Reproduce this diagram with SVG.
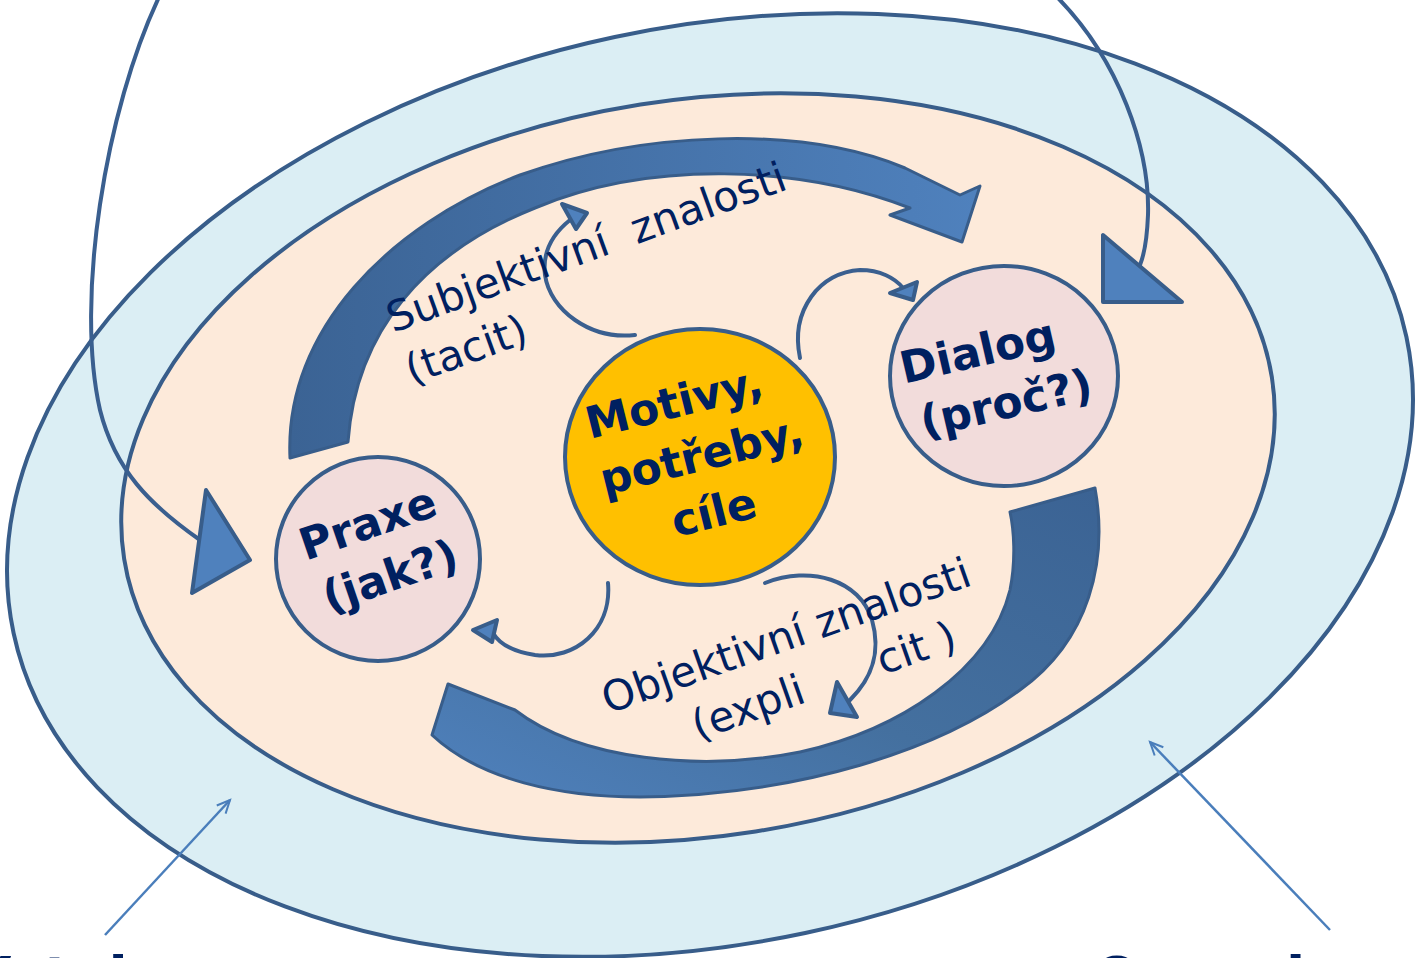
<svg xmlns="http://www.w3.org/2000/svg" width="1421" height="958" viewBox="0 0 1421 958">
<defs>
<style>
.ring{stroke:#385D8A;stroke-width:4}
.ln{fill:none;stroke:#3A5F8F;stroke-width:4;stroke-linecap:round}
.hd{fill:#4F81BD;stroke:#385D8A;stroke-width:4;stroke-linejoin:round}
.ptr{fill:none;stroke:#4A7EBB;stroke-width:2.5}
.node{stroke:#385D8A;stroke-width:4}
.t{font-family:"DejaVu Sans",Verdana,sans-serif;fill:#002060}
.lbl{font-size:42px}
.b{font-size:44px;font-weight:bold}
.big{font-size:56px;font-weight:bold}
</style>
<linearGradient id="gTop" x1="0" y1="0" x2="1" y2="0">
<stop offset="0" stop-color="#3B6394"/><stop offset="1" stop-color="#4F81BD"/>
</linearGradient>
<linearGradient id="gBot" x1="1" y1="0" x2="0" y2="1">
<stop offset="0" stop-color="#3B6394"/><stop offset="0.55" stop-color="#44709F"/><stop offset="1" stop-color="#4F81BD"/>
</linearGradient>
<marker id="open" markerUnits="userSpaceOnUse" markerWidth="18" markerHeight="18" refX="14" refY="7" orient="auto">
<path d="M1,1 L14,7 L1,13" fill="none" stroke="#4A7EBB" stroke-width="2"/>
</marker>
</defs>

<g id="outer-ring">
<ellipse class="ring" cx="710" cy="485" rx="712" ry="458" transform="rotate(-12 710 485)" fill="#DBEEF4"/>
</g>
<g id="inner-ring">
<ellipse class="ring" cx="698" cy="468" rx="581" ry="368" transform="rotate(-9 698 468)" fill="#FDEADA"/>
</g>

<g id="cycle-arrows">
<path id="arrow-top" fill="url(#gTop)" stroke="#385D8A" stroke-width="3" stroke-linejoin="round" d="M290,458 C284,330 390,225 520,175 C640,132 800,124 905,168 L960,195 L980,186 L962,242 L890,215 L910,208 C800,165 650,160 535,208 C425,252 356,330 348,442 Z"/>
<path id="arrow-bottom" fill="url(#gBot)" stroke="#385D8A" stroke-width="3" stroke-linejoin="round" d="M1010,512 L1095,488 C1108,560 1090,640 1020,690 C940,750 800,795 640,797 C560,797 480,780 432,735 L448,684 L515,710 C580,760 700,772 800,752 C900,730 990,670 1010,590 C1016,560 1014,530 1010,512 Z"/>
</g>

<g id="connectors">
<path class="ln" d="M635,335 C590,340 550,310 545,275 C542,250 555,232 570,220"/>
<polygon class="hd" points="562,204 587,213 576,229"/>
<path class="ln" d="M800,358 C790,310 820,272 860,270 C880,270 895,278 903,288"/>
<polygon class="hd" points="890,293 917,282 913,300"/>
<path class="ln" d="M608,583 C612,630 575,660 535,655 C515,652 500,645 493,633"/>
<polygon class="hd" points="473,630 497,620 492,642"/>
<path class="ln" d="M765,583 C810,565 860,580 872,620 C882,655 870,680 850,700"/>
<polygon class="hd" points="837,682 857,717 830,713"/>
<path class="ln" d="M160,-5 C105,110 75,300 100,410 C115,470 150,505 200,540"/>
<polygon class="hd" points="206,490 250,560 192,593"/>
<path class="ln" d="M1055,-5 C1120,60 1150,150 1148,215 C1147,240 1144,255 1140,265"/>
<polygon class="hd" points="1103,235 1103,302 1182,302"/>
<line class="ptr" x1="105" y1="935" x2="230" y2="800" marker-end="url(#open)"/>
<line class="ptr" x1="1330" y1="930" x2="1150" y2="742" marker-end="url(#open)"/>
</g>

<g id="node-motivy">
<ellipse class="node" cx="700" cy="457" rx="135" ry="128" fill="#FFC000"/>
<g transform="translate(700 457) rotate(-14)">
<text class="t b" text-anchor="middle"><tspan x="-12" y="-44">Motivy,</tspan><tspan x="2" y="14">potřeby,</tspan><tspan x="0" y="72">cíle</tspan></text>
</g>
</g>

<g id="node-dialog">
<ellipse class="node" cx="1004" cy="376" rx="114" ry="110" fill="#F2DCDB"/>
<g transform="translate(1004 376) rotate(-13)">
<text class="t b" text-anchor="middle"><tspan x="-20" y="-15">Dialog</tspan><tspan x="-4" y="42">(proč?)</tspan></text>
</g>
</g>

<g id="node-praxe">
<ellipse class="node" cx="378" cy="559" rx="102" ry="102" fill="#F2DCDB"/>
<g transform="translate(378 559) rotate(-19)">
<text class="t b" text-anchor="middle"><tspan x="2" y="-22">Praxe</tspan><tspan x="6" y="35">(jak?)</tspan></text>
</g>
</g>

<g id="label-subjektivni">
<g transform="translate(393 333) rotate(-20)">
<text class="t lbl" xml:space="preserve"><tspan x="0" y="0">Subjektivní  znalosti</tspan><tspan x="0" y="55">(tacit)</tspan></text>
</g>
</g>

<g id="label-objektivni">
<g transform="translate(608 714) rotate(-19.5)">
<text class="t lbl"><tspan x="0" y="0">Objektivní znalosti</tspan><tspan x="76" y="55">(expli</tspan><tspan x="272" y="55">cit )</tspan></text>
</g>
</g>

<g id="label-left">
<text class="t big" x="-32" y="996">Vztahy</text>
</g>
<g id="label-right">
<text class="t big" x="1093" y="996">Organizace</text>
</g>
</svg>
